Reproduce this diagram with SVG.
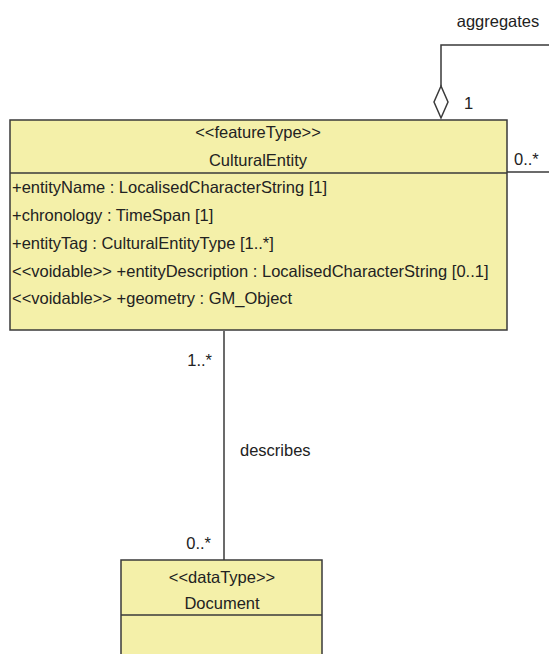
<svg xmlns="http://www.w3.org/2000/svg" width="549" height="654" viewBox="0 0 549 654">
<style>
.box{fill:#f4f0a9;stroke:#3a3a3a;stroke-width:1.5}
.ln{fill:none;stroke:#3a3a3a;stroke-width:1.5}
text{font-family:"Liberation Sans",Arial,sans-serif;font-size:16.5px;fill:#222}
.c{text-anchor:middle}
.r{text-anchor:end}
</style>
<rect width="549" height="654" fill="#fff"/>
<g id="connectors">
<path class="ln" d="M441 86 V45 H549"/>
<path class="ln" d="M507 172 H549"/>
<path class="ln" d="M224 331 V560"/>
<polygon points="441,86 448,102 441,118 434,102" fill="#fff" stroke="#3a3a3a" stroke-width="1.5"/>
<text x="498" y="27" class="c">aggregates</text>
<text x="464" y="109">1</text>
<text x="514" y="165">0..*</text>
<text x="212" y="366" class="r">1..*</text>
<text x="240" y="456">describes</text>
<text x="211" y="549" class="r">0..*</text>
</g>
<g id="CulturalEntity">
<rect class="box" x="10" y="120" width="497" height="210"/>
<line class="ln" x1="10" y1="173" x2="507" y2="173"/>
<text x="258" y="138" class="c">&lt;&lt;featureType&gt;&gt;</text>
<text x="258" y="166" class="c">CulturalEntity</text>
<text x="12" y="193">+entityName : LocalisedCharacterString [1]</text>
<text x="12" y="221">+chronology : TimeSpan [1]</text>
<text x="12" y="249">+entityTag : CulturalEntityType [1..*]</text>
<text x="12" y="277">&lt;&lt;voidable&gt;&gt; +entityDescription : LocalisedCharacterString [0..1]</text>
<text x="12" y="304">&lt;&lt;voidable&gt;&gt; +geometry : GM_Object</text>
</g>
<g id="Document">
<rect class="box" x="121" y="560" width="201" height="100"/>
<line class="ln" x1="121" y1="615" x2="322" y2="615"/>
<text x="222" y="583" class="c">&lt;&lt;dataType&gt;&gt;</text>
<text x="222" y="609" class="c">Document</text>
</g>
</svg>
